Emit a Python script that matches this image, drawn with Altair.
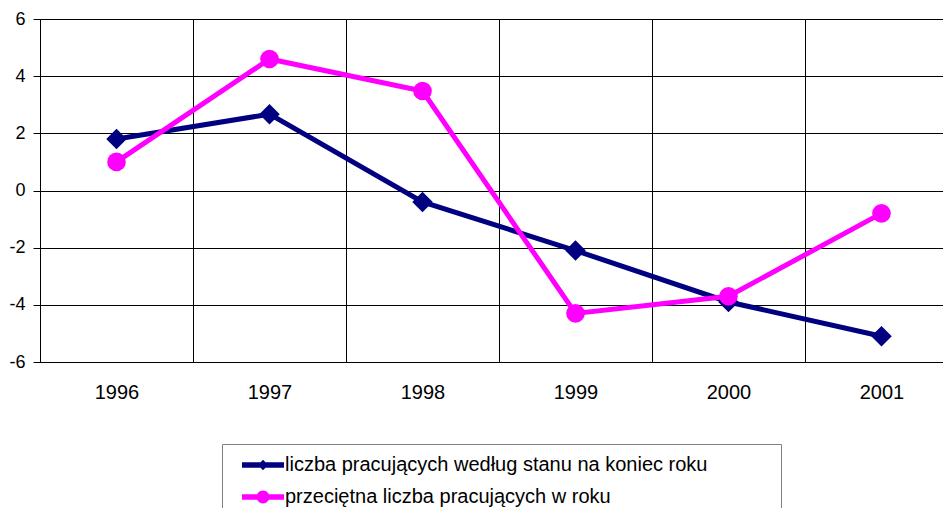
import altair as alt
import pandas as pd

# ---- data ----
years = ["1996", "1997", "1998", "1999", "2000", "2001"]
series_names = [
    "liczba pracujących według stanu na koniec roku",
    "przeciętna liczba pracujących w roku",
]
end_of_year = [1.8, 2.67, -0.4, -2.1, -3.9, -5.1]
average = [1.0, 4.6, 3.48, -4.3, -3.7, -0.8]
y_ticks = [-6, -4, -2, 0, 2, 4, 6]
colors = ["#000080", "#FF00FF"]

df = pd.DataFrame({
    "rok": years * 2,
    "seria": [series_names[0]] * len(years) + [series_names[1]] * len(years),
    "wartosc": end_of_year + average,
})

FONT = "Liberation Sans"

# legend symbols: line + marker (custom paths, unit = sqrt(size)/2 px); trailing moveto widens the frame
leg_path1 = "M-0.125,-0.34H5.125V0.34H-0.125Z M2.5,-0.65L3.15,0L2.5,0.65L1.85,0Z M65.8,0"
leg_path2 = ("M-0.125,-0.34H5.125V0.34H-0.125Z "
             "M1.7,0A0.8,0.8,0,1,1,3.3,0A0.8,0.8,0,1,1,1.7,0Z M65.8,0")

color_scale = alt.Scale(domain=series_names, range=colors)

x_enc = alt.X(
    "rok:O",
    bandPosition=0.5,
    scale=alt.Scale(type="band", domain=years, range=[0, 918], paddingInner=0, paddingOuter=0),
    axis=alt.Axis(
        title=None, labelAngle=0, ticks=False, tickBand="extent", grid=True,
        gridColor="black", gridOpacity=1, gridWidth=1, domainColor="black",
        labelFont=FONT, labelFontSize=20, labelColor="black", labelPadding=20,
    ),
)
y_enc = alt.Y(
    "wartosc:Q",
    scale=alt.Scale(domain=[-6, 6], nice=False, zero=False),
    axis=alt.Axis(
        title=None, values=y_ticks, tickSize=7, tickColor="black", domainColor="black",
        gridColor="black", gridOpacity=1, gridWidth=1, labelExpr="'' + datum.value",
        labelFont=FONT, labelFontSize=18, labelColor="black", labelPadding=8,
    ),
)

legend = alt.Legend(
    title=None, orient="none", legendX=182, legendY=425, direction="vertical",
    fillColor="white", strokeColor="#808080", padding=11, rowPadding=12,
    symbolSize=256, labelOffset=32, labelFont=FONT, labelFontSize=20,
    labelColor="black", labelLimit=1000, symbolStrokeWidth=0, symbolOpacity=1,
)

# legend-only layer (no rows drawn): fill + shape legend with line-and-marker symbols
leg_layer = alt.Chart(df).transform_filter("false").mark_point(filled=True, opacity=1).encode(
    x=x_enc, y=y_enc,
    fill=alt.Fill("seria:N", scale=color_scale, legend=legend),
    shape=alt.Shape("seria:N", scale=alt.Scale(domain=series_names, range=[leg_path1, leg_path2]),
                    legend=legend),
)
layers = [leg_layer]

shapes = ["diamond", "circle"]
sizes = [420, 346]
for i, name in enumerate(series_names):
    base = alt.Chart(df).transform_filter(alt.datum.seria == name)
    line = base.mark_line(strokeWidth=5).encode(
        x=x_enc, y=y_enc,
        color=alt.Color("seria:N", scale=color_scale, legend=None),
    )
    pts = base.mark_point(filled=True, opacity=1, shape=shapes[i], size=sizes[i]).encode(
        x=x_enc, y=y_enc,
        color=alt.Color("seria:N", scale=color_scale, legend=None),
    )
    layers += [line, pts]

chart = alt.layer(*layers).properties(
    width=903, height=343,
    autosize=alt.AutoSizeParams(type="none"),
    padding={"left": 32, "top": 11, "right": 0, "bottom": 146},
).configure_view(stroke=None).configure(font=FONT)

chart.save("out.html", embed_options={"renderer": "svg", "actions": False})
